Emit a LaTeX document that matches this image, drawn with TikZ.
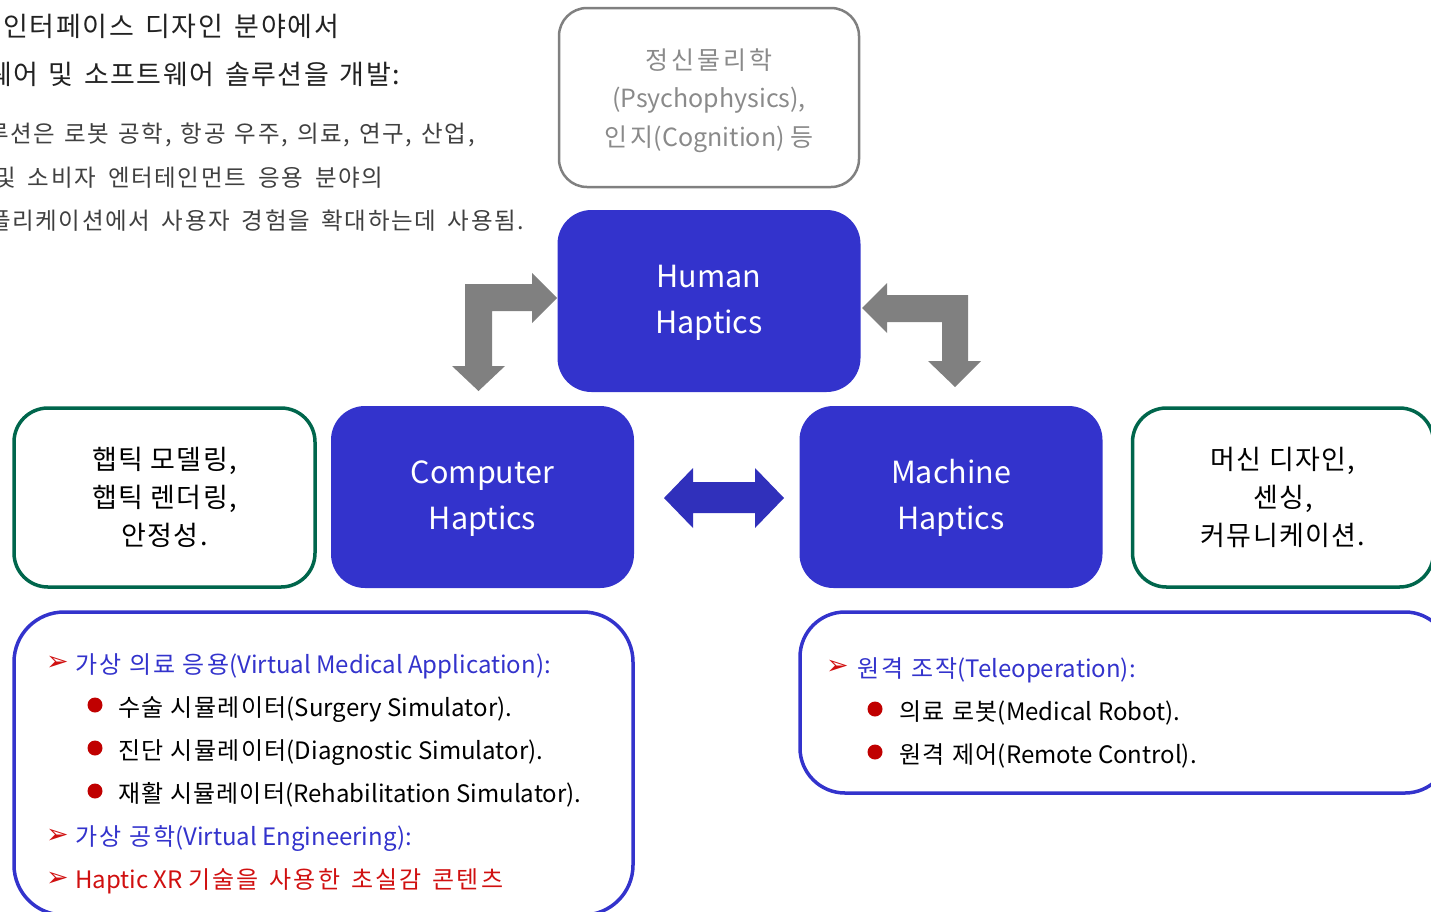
\documentclass[tikz,border=0pt]{standalone}
\usepackage{fontspec}
\setmainfont{Noto Sans CJK KR}
\newfontfamily\djv{DejaVu Sans}
\definecolor{hblue}{HTML}{3333CC}
\definecolor{ablue}{HTML}{3030BB}
\definecolor{agray}{HTML}{808080}
\definecolor{bgreen}{HTML}{00664C}
\definecolor{pgray}{HTML}{8A8A8A}
\definecolor{bred}{HTML}{C00000}
\definecolor{tred}{HTML}{D01010}
\definecolor{tdark}{HTML}{222222}
\definecolor{tmid}{HTML}{404040}
\newcommand{\fs}[2]{\fontsize{#1}{#2}\selectfont}
\newcommand{\ks}[2][8]{{\addfontfeature{LetterSpace=#1}#2}}
\newcommand{\kw}[3]{{\addfontfeature{LetterSpace=#1}\spaceskip=#2\fontdimen2\font\relax #3}}
\begin{document}
\begin{tikzpicture}[x=1pt,y=-1pt,
  hbox/.style={fill=hblue, draw=none, rounded corners=34pt, minimum width=303pt, minimum height=182pt,
    text=white, align=center, font=\fs{30.5}{46}, inner sep=0pt},
  gbox/.style={draw=bgreen, line width=3.5pt, fill=white, rounded corners=34pt, minimum width=301pt, minimum height=179pt,
    text=black, align=center, font=\fs{27}{38}, inner sep=0pt},
  pbox/.style={draw=agray, line width=2.5pt, rounded corners=28pt, minimum width=300pt, minimum height=179pt,
    text=pgray, align=center, font=\fs{25}{38.5}, inner sep=0pt},
  toptxt/.style={anchor=base west, inner sep=0pt},
  litem/.style={anchor=base west, inner sep=0pt, font=\fs{24}{30}},
  arr/.style={anchor=center, inner sep=0pt, text=tred, font=\djv\fs{27}{28}},
  dot/.style={circle, fill=bred, minimum size=15pt, inner sep=0pt},
  blockgray/.style={fill=agray, draw=none},
  blockblue/.style={fill=ablue, draw=none}
]
\useasboundingbox (0,0) rectangle (1431,911);
\clip (0,0) rectangle (1431,911);

% top-left text
\node[toptxt, text=tdark, font=\fs{27}{30}] (t1) at (3,36) {\kw{6}{1.5}{인터페이스 디자인 분야에서}};
\node[toptxt, text=tdark, font=\fs{27}{30}] (t2) at (-13,84) {\kw{6}{1.35}{웨어 및 소프트웨어 솔루션을 개발:}};
\node[toptxt, text=tmid, font=\fs{23.5}{28}] (t3) at (-13,142) {\kw{7}{1.33}{루션은 로봇 공학, 항공 우주, 의료, 연구, 산업,}};
\node[toptxt, text=tmid, font=\fs{23.5}{28}] (t4) at (-6,186) {\kw{7}{1.75}{및 소비자 엔터테인먼트 응용 분야의}};
\node[toptxt, text=tmid, font=\fs{23.5}{28}] (t5) at (-11,229) {\kw{7}{1.68}{플리케이션에서 사용자 경험을 확대하는데 사용됨.}};

% boxes
\node[pbox, text depth=0pt] (psy) at (709,97.5) {\ks[13]{정신물리학}\\(Psychophysics),\\\ks[13]{인지}(Cognition) \ks[13]{등}};
\node[hbox] (human) at (709,301) {\raisebox{-8pt}{\begin{tabular}{@{}c@{}}Human\\Haptics\end{tabular}}};
\node[hbox] (comp) at (482.5,497) {\raisebox{-8.5pt}{\begin{tabular}{@{}c@{}}Computer\\Haptics\end{tabular}}};
\node[hbox] (mach) at (951,497) {\raisebox{-8.5pt}{\begin{tabular}{@{}c@{}}Machine\\Haptics\end{tabular}}};
\node[gbox] (lg) at (164.5,497.5) {\ks[5]{햅틱 모델링,}\\\ks[5]{햅틱 렌더링,}\\\ks[5]{안정성.}};
\node[gbox] (rg) at (1283,497.5) {\ks[5]{머신 디자인,}\\\ks[5]{센싱,}\\\ks[5]{커뮤니케이션.}};

% gray bent arrows
\fill[blockgray] (478.5,391) -- (505,366) -- (492,366) -- (492,311) -- (532,311) -- (532,323) -- (557,298)
  -- (532,273) -- (532,284) -- (465,284) -- (465,366) -- (452,366) -- cycle;
\fill[blockgray] (862,308) -- (887,283) -- (887,295) -- (968,295) -- (968,361) -- (981,361) -- (955,387)
  -- (928,361) -- (942,361) -- (942,322) -- (887,322) -- (887,333) -- cycle;
% blue double arrow
\fill[blockblue] (664,498) -- (693,468) -- (693,482) -- (755,482) -- (755,468) -- (784,498) -- (755,528)
  -- (755,513) -- (693,513) -- (693,528) -- cycle;

% bottom boxes
\draw[draw=hblue, line width=3.5pt, rounded corners=50pt] (14,612) rectangle (633,915);
\draw[draw=hblue, line width=3.5pt, rounded corners=45pt] (800,612) rectangle (1450,793);

% left list
\node[arr] (a1) at (57.5,663) {➢};
\node[litem, text=hblue] (l1) at (75,673) {\ks[9]{가상 의료 응용}(Virtual Medical Application):};
\node[dot] (d1) at (95,705) {};
\node[litem] (l2) at (118,716) {\ks[6]{수술 시뮬레이터}(Surgery Simulator).};
\node[dot] (d2) at (95,748) {};
\node[litem] (l3) at (118,759) {\ks[6]{진단 시뮬레이터}(Diagnostic Simulator).};
\node[dot] (d3) at (95,791) {};
\node[litem] (l4) at (118,802) {\ks[5]{재활 시뮬레이터}(Rehabilitation Simulator).};
\node[arr] (a2) at (57.5,836) {➢};
\node[litem, text=hblue] (l5) at (75,845) {\ks[9]{가상 공학}(Virtual Engineering):};
\node[arr] (a3) at (57.5,879) {➢};
\node[litem, text=tred] (l6) at (75,888) {Haptic XR \kw{9}{1.45}{기술을 사용한 초실감 콘텐츠}};

% right list
\node[arr] (a4) at (837.5,667) {➢};
\node[litem, text=hblue] (r1) at (857,677) {\ks[9]{원격 조작}(Teleoperation):};
\node[dot] (d4) at (875,709) {};
\node[litem] (r2) at (899,720) {\ks[7]{의료 로봇}(Medical Robot).};
\node[dot] (d5) at (875,752) {};
\node[litem] (r3) at (899,763) {\ks[7]{원격 제어}(Remote Control).};
\end{tikzpicture}
\end{document}
